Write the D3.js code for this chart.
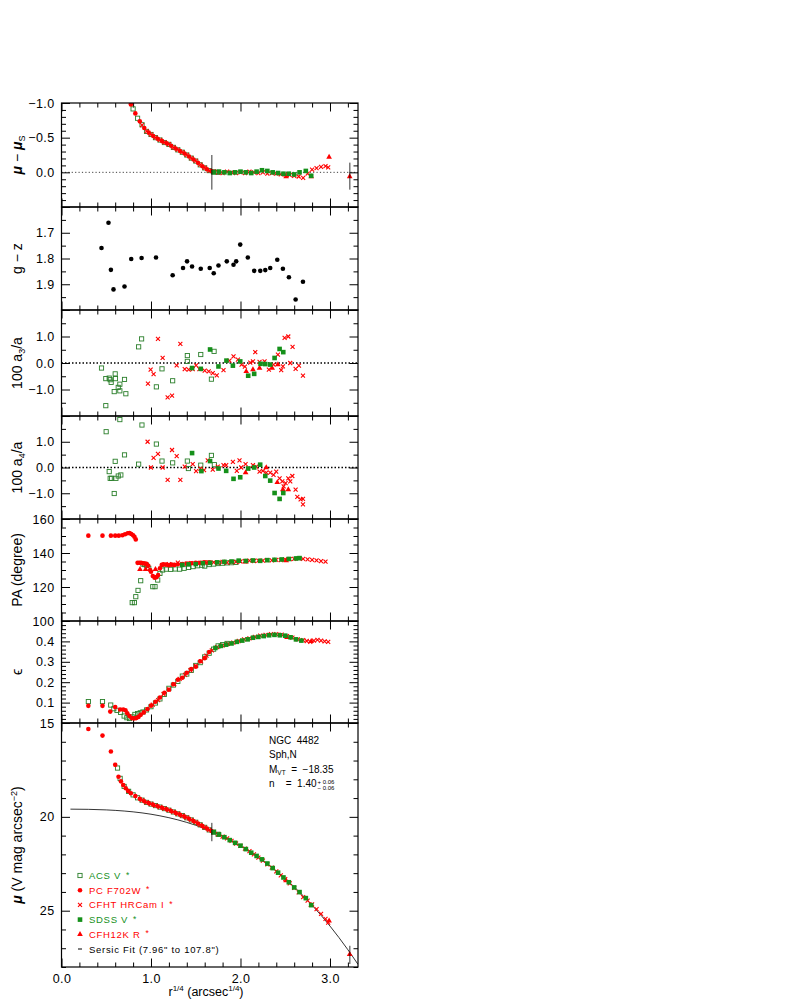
<!DOCTYPE html>
<html>
<head>
<meta charset="utf-8">
<script src="https://cdn.jsdelivr.net/npm/d3@7"></script>
<style>
  body { margin: 0; background: #fff; }
  text { font-family: "Liberation Sans", Arial, sans-serif; }
</style>
</head>
<body>
<svg id="chart" width="795" height="1004"></svg>
<script>
// ---- tick labels ----
var xTicks   = [0.0, 1.0, 2.0, 3.0];
var resTicks = [-1.0, -0.5, 0.0];
var gzTicks  = [1.7, 1.8, 1.9];
var a3Ticks  = [1.0, 0.0, -1.0];
var a4Ticks  = [1.0, 0.0, -1.0];
var paTicks  = [160, 140, 120, 100];
var epsTicks = [0.1, 0.2, 0.3, 0.4];
var muTicks  = [15, 20, 25];

// ---- mu - mu_s ----
var res_ACS = [[0.80,-0.915],[0.85,-0.78],[0.90,-0.686],[0.95,-0.59],[1.00,-0.546],[1.05,-0.5],[1.10,-0.466],[1.15,-0.43],[1.20,-0.403],[1.25,-0.36],[1.30,-0.324],[1.35,-0.29],[1.40,-0.25],[1.45,-0.205],[1.50,-0.163],[1.55,-0.108],[1.60,-0.064],[1.65,-0.025],[1.70,-0.008],[1.75,0.0]];
var res_PC = [[0.775,-0.98],[0.825,-0.85],[0.875,-0.735],[0.925,-0.64],[0.975,-0.572],[1.025,-0.524],[1.075,-0.484],[1.125,-0.45],[1.175,-0.419],[1.225,-0.383],[1.275,-0.343],[1.325,-0.308],[1.375,-0.271],[1.425,-0.229],[1.475,-0.185],[1.525,-0.137],[1.575,-0.087],[1.625,-0.045],[1.675,-0.015]];
var res_CFHT = [[0.90,-0.68],[0.95,-0.595],[1.00,-0.548],[1.05,-0.50],[1.10,-0.468],[1.15,-0.432],[1.20,-0.405],[1.25,-0.36],[1.30,-0.326],[1.35,-0.29],[1.40,-0.252],[1.45,-0.205],[1.50,-0.165],[1.55,-0.11],[1.60,-0.066],[1.65,-0.025],[1.70,-0.01],[1.75,0.0],[1.80,0.01],[1.85,-0.01],[1.90,0.0],[1.95,0.01],[2.00,0.0],[2.05,0.01],[2.10,-0.01],[2.15,0.0],[2.20,0.01],[2.25,0.0],[2.30,0.02],[2.35,0.01],[2.40,0.02],[2.45,0.03],[2.50,0.03],[2.55,0.04],[2.60,0.05],[2.65,0.06],[2.70,0.08],[2.75,0.02],[2.80,-0.04],[2.85,-0.06],[2.90,-0.08],[2.95,-0.09],[2.98,-0.07]];
var res_SDSS = [[1.70,0.0],[1.76,-0.01],[1.82,0.0],[1.88,0.01],[1.94,0.0],[2.00,-0.01],[2.06,0.0],[2.12,0.01],[2.18,-0.01],[2.24,-0.03],[2.30,-0.02],[2.36,0.0],[2.42,0.01],[2.48,0.02],[2.54,0.02],[2.60,0.03],[2.66,0.0],[2.73,-0.02],[2.79,0.05]];
var res_CFH12K = [[2.51,0.06],[2.79,0.06],[2.99,-0.22],[3.22,0.06]];
var fitMarksRes = [[1.68,-0.25,0.25],[3.222,-0.14,0.25]];

// ---- g - z ----
var gz = [[0.447,1.759],[0.525,1.661],[0.552,1.844],[0.581,1.920],[0.704,1.909],[0.779,1.802],[0.895,1.798],[1.056,1.796],[1.242,1.865],[1.358,1.837],[1.403,1.811],[1.459,1.831],[1.556,1.840],[1.656,1.837],[1.701,1.857],[1.754,1.827],[1.847,1.811],[1.922,1.824],[1.952,1.811],[1.997,1.746],[2.082,1.796],[2.153,1.848],[2.221,1.848],[2.277,1.845],[2.332,1.837],[2.411,1.805],[2.474,1.840],[2.541,1.873],[2.616,1.959],[2.698,1.890]];

// ---- 100 a3/a ----
var a3_ACS = [[0.447,-0.19],[0.495,-0.59],[0.495,-1.61],[0.533,-0.57],[0.544,-0.63],[0.555,-0.73],[0.589,-1.08],[0.600,-0.41],[0.603,-0.59],[0.634,-0.92],[0.652,-0.80],[0.652,-1.05],[0.704,-0.62],[0.719,-1.16],[0.862,0.61],[0.895,0.91],[1.060,-0.90],[1.123,-0.22],[1.242,-0.67],[1.406,0.28],[1.406,0.06],[1.556,0.32],[1.675,-0.61],[1.705,0.44]];
var a3_CFHT = [[0.966,-0.78],[0.996,-0.25],[1.029,-0.42],[1.078,0.91],[1.130,0.19],[1.186,-1.30],[1.235,-1.23],[1.287,-0.09],[1.328,0.72],[1.377,-0.23],[1.421,-0.25],[1.466,-0.23],[1.504,-0.09],[1.541,-0.23],[1.600,-0.29],[1.645,-0.32],[1.690,-0.38],[1.735,-0.47],[1.810,-0.27],[1.877,0.09],[1.922,0.25],[1.971,0.13],[2.012,-0.06],[2.049,-0.14],[2.109,0.01],[2.139,0.06],[2.165,0.41],[2.213,0.04],[2.269,0.06],[2.317,-0.25],[2.369,-0.06],[2.418,0.32],[2.455,-0.27],[2.474,-0.13],[2.493,0.95],[2.534,1.00],[2.556,0.0],[2.582,0.61],[2.616,-0.22],[2.653,-0.10],[2.698,-0.48]];
var a3_SDSS = [[1.459,-0.19],[1.556,-0.22],[1.660,0.51],[1.754,-0.13],[1.843,0.09],[1.915,-0.10],[1.997,0.06],[2.086,-0.48],[2.153,-0.41],[2.224,-0.03],[2.277,-0.04],[2.332,-0.06],[2.381,0.19],[2.437,0.53],[2.478,0.41]];
var a3_CFH12K = [[2.064,-0.32],[2.139,-0.25],[2.213,-0.19],[2.354,-0.19],[2.418,-0.06]];

// ---- 100 a4/a ----
var a4_ACS = [[0.499,1.39],[0.533,-0.16],[0.544,-0.42],[0.559,-0.42],[0.589,-1.01],[0.600,0.24],[0.608,-0.42],[0.634,-0.33],[0.652,1.86],[0.663,-0.29],[0.704,0.49],[0.862,0.13],[0.899,1.65],[1.060,0.91],[1.123,0.25],[1.242,0.18],[1.406,0.25],[1.418,-0.04],[1.556,0.09],[1.675,0.47],[1.708,0.11]];
var a4_CFHT = [[0.962,1.00],[0.999,0.0],[1.029,0.37],[1.078,0.53],[1.130,0.0],[1.186,-0.48],[1.235,0.68],[1.287,0.44],[1.328,-0.48],[1.377,0.03],[1.466,0.13],[1.504,-0.14],[1.552,-0.04],[1.593,-0.10],[1.634,0.28],[1.690,-0.08],[1.746,0.03],[1.810,0.09],[1.840,0.09],[1.915,0.22],[1.959,-0.13],[1.989,0.28],[2.008,0.0],[2.057,0.13],[2.083,-0.04],[2.139,0.09],[2.176,0.03],[2.213,-0.16],[2.250,-0.13],[2.288,-0.20],[2.332,-0.20],[2.369,-0.29],[2.399,-0.16],[2.437,-0.42],[2.467,-0.54],[2.482,-0.73],[2.504,-0.61],[2.534,-0.42],[2.556,-0.54],[2.579,-0.33],[2.616,-0.86],[2.635,-1.14],[2.672,-1.24],[2.698,-1.43],[2.698,-1.22]];
var a4_SDSS = [[1.459,0.56],[1.563,-0.14],[1.660,0.25],[1.754,-0.04],[1.840,-0.13],[1.922,-0.44],[1.997,-0.38],[2.086,-0.04],[2.153,0.0],[2.220,0.11],[2.277,-0.33],[2.332,-0.51],[2.381,-0.99],[2.437,-1.22],[2.478,-0.99]];
var a4_CFH12K = [[2.057,-0.20],[2.288,0.0],[2.411,-0.58],[2.474,-0.86],[2.534,-0.86]];

// ---- PA (degree) ----
var pa_PC = [[0.30,150.2],[0.458,150.2],[0.552,150.2],[0.60,150.2],[0.64,150.2],[0.68,150.4],[0.71,151.0],[0.74,151.6],[0.76,151.8],[0.78,151.2],[0.80,150.4],[0.815,149.5],[0.83,148.0],[0.85,134.2],[0.87,134.3],[0.89,134.2],[0.91,134.0],[0.93,133.8],[0.95,133.6],[0.97,132.5],[0.99,130.0],[1.00,129.0],[1.02,126.5],[1.04,125.5],[1.06,125.8],[1.08,127.0],[1.10,131.0],[1.12,133.0],[1.14,133.3],[1.17,133.2],[1.20,132.8],[1.23,133.2],[1.26,133.0],[1.30,133.4],[1.35,133.5],[1.40,133.8],[1.45,134.0],[1.50,134.2],[1.55,134.3],[1.60,134.5],[1.65,134.5]];
var pa_ACS = [[0.79,110.8],[0.815,110.8],[0.83,114.3],[0.855,118.0],[0.885,123.7],[0.91,133.5],[0.93,133.2],[0.95,132.8],[0.975,131.0],[1.02,120.2],[1.045,120.2],[1.075,124.1],[1.10,128.0],[1.13,130.0],[1.17,130.5],[1.22,130.4],[1.27,130.6],[1.32,130.5],[1.37,131.0],[1.42,131.5],[1.47,132.0],[1.52,132.5],[1.57,132.8],[1.60,132.3],[1.65,133.2],[1.70,133.5],[1.75,133.8],[1.80,134.0],[1.85,134.2],[1.90,134.3],[1.95,134.5]];
var pa_CFHT = [[1.15,133.0],[1.20,133.5],[1.25,133.0],[1.30,134.3],[1.35,133.5],[1.40,133.8],[1.45,134.0],[1.50,134.0],[1.55,134.2],[1.60,134.5],[1.65,134.3],[1.70,134.5],[1.75,134.2],[1.80,134.8],[1.85,134.4],[1.90,134.6],[1.95,134.8],[2.00,135.0],[2.05,135.2],[2.10,135.5],[2.15,135.3],[2.20,135.5],[2.25,135.5],[2.30,135.8],[2.35,135.6],[2.40,136.0],[2.45,135.8],[2.50,136.2],[2.55,136.4],[2.60,136.6],[2.65,136.8],[2.70,136.5],[2.75,136.3],[2.80,136.0],[2.85,135.6],[2.90,135.2],[2.95,134.9]];
var pa_SDSS = [[1.35,133.0],[1.42,133.3],[1.50,133.5],[1.58,134.0],[1.66,134.2],[1.74,134.5],[1.82,134.8],[1.90,135.0],[1.98,135.5],[2.06,135.3],[2.14,135.6],[2.22,135.4],[2.30,135.8],[2.38,136.0],[2.46,136.2],[2.54,136.5],[2.62,136.8],[2.66,137.0]];
var pa_CFH12K = [[0.877,130.4],[0.94,130.4],[1.05,130.4],[2.06,134.8],[2.51,135.5]];

// ---- ellipticity ----
var eps_PC = [[0.30,0.084],[0.458,0.084],[0.545,0.056],[0.60,0.078],[0.655,0.066],[0.69,0.066],[0.715,0.062],[0.735,0.048],[0.76,0.034],[0.785,0.024],[0.81,0.022],[0.835,0.024],[0.86,0.030],[0.885,0.040],[0.92,0.052],[0.96,0.068],[1.00,0.085],[1.05,0.104],[1.10,0.125],[1.15,0.148],[1.20,0.163],[1.25,0.190],[1.30,0.212],[1.35,0.222],[1.40,0.246],[1.45,0.265],[1.50,0.276],[1.55,0.303],[1.60,0.318],[1.65,0.348]];
var eps_ACS = [[0.30,0.105],[0.458,0.105],[0.55,0.088],[0.585,0.070],[0.62,0.062],[0.66,0.052],[0.70,0.034],[0.73,0.026],[0.76,0.022],[0.79,0.030],[0.82,0.042],[0.85,0.046],[0.88,0.050],[0.91,0.054],[0.95,0.064],[1.00,0.080],[1.05,0.098],[1.10,0.118],[1.15,0.140],[1.20,0.170],[1.25,0.186],[1.30,0.204],[1.35,0.230],[1.40,0.240],[1.45,0.258],[1.50,0.282],[1.55,0.296],[1.60,0.324],[1.65,0.342],[1.70,0.362],[1.75,0.378],[1.80,0.384],[1.85,0.390]];
var eps_CFHT = [[1.02,0.090],[1.08,0.112],[1.14,0.142],[1.20,0.165],[1.26,0.190],[1.32,0.216],[1.38,0.236],[1.44,0.258],[1.50,0.280],[1.56,0.302],[1.62,0.330],[1.68,0.356],[1.74,0.372],[1.80,0.380],[1.86,0.388],[1.92,0.394],[1.98,0.402],[2.04,0.410],[2.10,0.415],[2.16,0.422],[2.22,0.428],[2.28,0.432],[2.34,0.436],[2.40,0.436],[2.46,0.433],[2.52,0.426],[2.58,0.418],[2.64,0.410],[2.70,0.406],[2.74,0.402],[2.78,0.398],[2.82,0.404],[2.86,0.408],[2.90,0.404],[2.94,0.400],[2.98,0.398]];
var eps_SDSS = [[1.72,0.368],[1.78,0.378],[1.84,0.384],[1.90,0.390],[1.96,0.398],[2.02,0.404],[2.08,0.410],[2.14,0.418],[2.20,0.422],[2.26,0.426],[2.32,0.430],[2.38,0.432],[2.44,0.430],[2.50,0.428],[2.56,0.420],[2.62,0.410],[2.68,0.404]];
var eps_CFH12K = [[2.52,0.420],[2.79,0.400]];

// ---- surface brightness mu ----
var mu_ACS = [[0.626,17.40],[0.655,17.95],[0.70,18.38],[0.75,18.64],[0.80,18.83],[0.85,18.985],[0.90,19.11],[0.95,19.23],[1.00,19.32],[1.05,19.40],[1.10,19.48],[1.15,19.56],[1.20,19.645],[1.25,19.74],[1.30,19.84],[1.35,19.935],[1.40,20.05],[1.45,20.165],[1.50,20.29],[1.55,20.425],[1.60,20.56],[1.65,20.695],[1.70,20.81],[1.75,20.93]];
var mu_PC = [[0.30,15.32],[0.458,15.67],[0.552,16.52],[0.60,17.23],[0.637,17.86],[0.664,18.11],[0.69,18.30],[0.718,18.48],[0.745,18.62],[0.775,18.741],[0.825,18.896],[0.875,19.04],[0.925,19.166],[0.975,19.269],[1.025,19.356],[1.075,19.438],[1.125,19.519],[1.175,19.60],[1.225,19.69],[1.275,19.788],[1.325,19.885],[1.375,19.99],[1.425,20.104],[1.475,20.225],[1.525,20.355],[1.575,20.492],[1.625,20.626],[1.675,20.754]];
var mu_CFHT = [[0.90,19.104],[0.95,19.228],[1.00,19.312],[1.05,19.40],[1.10,19.477],[1.15,19.561],[1.20,19.64],[1.25,19.741],[1.30,19.835],[1.35,19.936],[1.40,20.044],[1.45,20.166],[1.50,20.285],[1.55,20.424],[1.60,20.558],[1.65,20.694],[1.70,20.81],[1.75,20.926],[1.80,21.048],[1.85,21.146],[1.90,21.28],[1.95,21.42],[2.00,21.546],[2.05,21.699],[2.10,21.829],[2.15,21.995],[2.20,22.169],[2.25,22.329],[2.30,22.526],[2.35,22.701],[2.40,22.904],[2.45,23.114],[2.50,23.322],[2.55,23.548],[2.60,23.78],[2.65,24.021],[2.70,24.282],[2.75,24.469],[2.80,24.667],[2.85,24.911],[2.90,25.164],[2.95,25.437],[2.98,25.63]];
var mu_SDSS = [[1.70,20.82],[1.76,20.938],[1.82,21.085],[1.88,21.24],[1.94,21.384],[2.00,21.536],[2.06,21.719],[2.12,21.911],[2.18,22.083],[2.24,22.265],[2.30,22.486],[2.36,22.73],[2.42,22.974],[2.48,23.229],[2.54,23.485],[2.60,23.76],[2.66,24.009],[2.73,24.33],[2.79,24.705]];
var mu_CFH12K = [[2.51,23.395],[2.79,24.715],[2.99,25.54],[3.22,27.32]];
var sersic = [[0.10,19.59],[0.30,19.60],[0.50,19.63],[0.70,19.69],[0.90,19.79],[1.00,19.86],[1.10,19.945],[1.20,20.045],[1.30,20.161],[1.40,20.296],[1.50,20.45],[1.60,20.624],[1.70,20.82],[1.80,21.038],[1.90,21.28],[2.00,21.546],[2.10,21.839],[2.20,22.159],[2.30,22.506],[2.40,22.884],[2.50,23.292],[2.60,23.73],[2.70,24.202],[2.80,24.707],[2.90,25.244],[3.00,25.819],[3.10,26.43],[3.20,27.08],[3.313,27.86]];
var fitMarksMu = [[1.68,20.32,21.30],[3.222,26.87,27.84]];

var legendLabels = ["ACS V", "PC F702W", "CFHT HRCam I", "SDSS V", "CFH12K R", "Sersic Fit (7.96\" to 107.8\")"];
var legendSyms   = ["osq", "circ", "cross", "fsq", "tri", "dash"];

// ---- styles ----
var RED = "#ff0000", GREEN = "#15901a", OGREEN = "#2b7f2b";
var FONT = "'Liberation Sans', Arial, sans-serif";

var svg = d3.select("#chart");
var x = d3.scaleLinear().domain([0, 3.313]).range([61.5, 358]);
var X0 = x.range()[0], X1 = x.range()[1];

var panels = [
  {id:"res", top:103, bot:207, vTop:-1.0, vBot:0.5, minor:0.1, major:0.5, labels:resTicks, fmt:".1f",
   title:"res", zero:1,
   sets:[[res_ACS,"osq",OGREEN],[res_PC,"circ",RED],[res_CFHT,"cross",RED],[res_CFH12K,"tri",RED],[res_SDSS,"fsq",GREEN]]},
  {id:"gz", top:207, bot:310, vTop:1.6, vBot:2.0, minor:0.05, major:0.1, labels:gzTicks, fmt:".1f",
   title:"gz", sets:[[gz,"circ","#000"]]},
  {id:"a3", top:310, bot:416, vTop:2, vBot:-2, minor:0.5, major:1, labels:a3Ticks, fmt:".1f",
   title:"a3", zero:1.5,
   sets:[[a3_ACS,"osq",OGREEN],[a3_CFHT,"cross",RED],[a3_CFH12K,"tri",RED],[a3_SDSS,"fsq",GREEN]]},
  {id:"a4", top:416, bot:519, vTop:2, vBot:-2, minor:0.5, major:1, labels:a4Ticks, fmt:".1f",
   title:"a4", zero:1.5,
   sets:[[a4_ACS,"osq",OGREEN],[a4_CFHT,"cross",RED],[a4_CFH12K,"tri",RED],[a4_SDSS,"fsq",GREEN]]},
  {id:"pa", top:519, bot:621, vTop:160, vBot:100, minor:5, major:20, labels:paTicks, fmt:"d",
   title:"pa",
   sets:[[pa_ACS,"osq",OGREEN],[pa_PC,"circ",RED],[pa_CFHT,"cross",RED],[pa_CFH12K,"tri",RED],[pa_SDSS,"fsq",GREEN]]},
  {id:"eps", top:621, bot:723, vTop:0.5, vBot:0.0, minor:0.02, major:0.1, labels:epsTicks, fmt:".1f",
   title:"eps",
   sets:[[eps_ACS,"osq",OGREEN],[eps_PC,"circ",RED],[eps_CFHT,"cross",RED],[eps_CFH12K,"tri",RED],[eps_SDSS,"fsq",GREEN]]},
  {id:"mu", top:723, bot:967, vTop:15, vBot:28, minor:1, major:5, labels:muTicks, fmt:"d",
   title:"mu",
   sets:[[mu_ACS,"osq",OGREEN],[mu_PC,"circ",RED],[mu_CFHT,"cross",RED],[mu_CFH12K,"tri",RED],[mu_SDSS,"fsq",GREEN]]}
];

function stepTicks(lo, hi, step) {
  var n = Math.round((hi - lo) / step);
  return d3.range(n + 1).map(function(i) { return +(lo + i * step).toFixed(6); });
}

function drawMarks(g, pts, sym, color, y) {
  var sel = g.selectAll(null).data(pts).enter();
  var tr = function(d) { return "translate(" + x(d[0]) + "," + y(d[1]) + ")"; };
  if (sym === "circ") {
    sel.append("circle").attr("cx", function(d){ return x(d[0]); }).attr("cy", function(d){ return y(d[1]); })
      .attr("r", 2.3).attr("fill", color);
  } else if (sym === "osq") {
    sel.append("rect").attr("transform", tr).attr("x", -2.1).attr("y", -2.1).attr("width", 4.2).attr("height", 4.2)
      .attr("fill", "none").attr("stroke", color).attr("stroke-width", 0.9);
  } else if (sym === "fsq") {
    sel.append("rect").attr("transform", tr).attr("x", -2.3).attr("y", -2.3).attr("width", 4.6).attr("height", 4.6)
      .attr("fill", color);
  } else if (sym === "tri") {
    sel.append("path").attr("transform", tr).attr("d", d3.symbol(d3.symbolTriangle, 14)).attr("fill", color);
  } else if (sym === "cross") {
    sel.append("path").attr("transform", tr).attr("d", "M-2,-2L2,2M-2,2L2,-2")
      .attr("stroke", color).attr("stroke-width", 1.1).attr("fill", "none");
  }
}

function tickSide(g, axis, vals, len, tx) {
  g.append("g").attr("transform", tx)
    .call(axis.tickValues(vals).tickSize(-len).tickFormat(""))
    .call(function(s) { s.select(".domain").remove(); })
    .selectAll("line").attr("stroke", "#000").attr("stroke-width", 1);
}

panels.forEach(function(p, i) {
  var y = d3.scaleLinear().domain([p.vTop, p.vBot]).range([p.top, p.bot]);
  p.y = y;
  var g = svg.append("g");
  var lo = Math.min(p.vTop, p.vBot), hi = Math.max(p.vTop, p.vBot);
  var all = stepTicks(lo, hi, p.minor);
  var isMaj = function(v) { var r = v / p.major; return Math.abs(r - Math.round(r)) < 1e-6; };
  var minY = all.filter(function(v){ return !isMaj(v); }), majY = all.filter(isMaj);
  var allX = stepTicks(0, 3.2, 0.2);
  var minX = allX.filter(function(v){ return Math.abs(v - Math.round(v)) > 1e-6; });
  var majX = allX.filter(function(v){ return Math.abs(v - Math.round(v)) < 1e-6; });

  // ticks on four sides, pointing in
  tickSide(g, d3.axisLeft(y), minY, 4.5, "translate(" + X0 + ",0)");
  tickSide(g, d3.axisLeft(y), majY, 8.5, "translate(" + X0 + ",0)");
  tickSide(g, d3.axisRight(y), minY, 4.5, "translate(" + X1 + ",0)");
  tickSide(g, d3.axisRight(y), majY, 8.5, "translate(" + X1 + ",0)");
  tickSide(g, d3.axisTop(x), minX, 4.5, "translate(0," + p.top + ")");
  tickSide(g, d3.axisTop(x), majX, 8.5, "translate(0," + p.top + ")");
  tickSide(g, d3.axisBottom(x), minX, 4.5, "translate(0," + p.bot + ")");
  tickSide(g, d3.axisBottom(x), majX, 8.5, "translate(0," + p.bot + ")");

  // y tick labels
  g.append("g").attr("transform", "translate(" + X0 + ",0)")
    .call(d3.axisLeft(y).tickValues(p.labels).tickSize(0).tickPadding(7).tickFormat(d3.format(p.fmt)))
    .call(function(s) { s.select(".domain").remove(); })
    .attr("font-size", 12.5).attr("font-family", FONT)
    .selectAll("text").attr("fill", "#000").attr("letter-spacing", 0.4);

  // zero reference line
  if (p.zero) {
    g.append("line").attr("x1", X0).attr("x2", X1).attr("y1", y(0)).attr("y2", y(0))
      .attr("stroke", "#000").attr("stroke-width", p.zero).attr("stroke-dasharray", p.zero > 1 ? "1.5,2" : "1.2,2.2")
      .attr("opacity", p.zero > 1 ? 1 : 0.75);
  }

  // clip and data
  var cid = "clip" + i;
  svg.append("clipPath").attr("id", cid).append("rect")
    .attr("x", X0).attr("y", p.top).attr("width", X1 - X0).attr("height", p.bot - p.top);
  var dg = svg.append("g").attr("clip-path", "url(#" + cid + ")");

  if (p.id === "mu") {
    dg.append("path").datum(sersic)
      .attr("d", d3.line().x(function(d){ return x(d[0]); }).y(function(d){ return y(d[1]); }).curve(d3.curveMonotoneX))
      .attr("fill", "none").attr("stroke", "#000").attr("stroke-width", 0.8);
  }
  p.sets.forEach(function(s) { drawMarks(dg, s[0], s[1], s[2], y); });

  var marks = p.id === "res" ? fitMarksRes : (p.id === "mu" ? fitMarksMu : null);
  if (marks) {
    dg.selectAll(null).data(marks).enter().append("line")
      .attr("x1", function(d){ return x(d[0]); }).attr("x2", function(d){ return x(d[0]); })
      .attr("y1", function(d){ return y(d[1]); }).attr("y2", function(d){ return y(d[2]); })
      .attr("stroke", "#000").attr("stroke-width", 0.8);
  }

  // frame
  svg.append("rect").attr("x", X0).attr("y", p.top).attr("width", X1 - X0).attr("height", p.bot - p.top)
    .attr("fill", "none").attr("stroke", "#000").attr("stroke-width", 1.2);

  // y titles
  var t = svg.append("text").attr("transform", "translate(22," + ((p.top + p.bot) / 2) + ") rotate(-90)")
    .attr("text-anchor", "middle").attr("font-size", 14).attr("fill", "#000");
  if (p.title === "res") {
    t.append("tspan").attr("font-style", "italic").attr("font-weight", "bold").text("μ");
    t.append("tspan").text(" − ");
    t.append("tspan").attr("font-style", "italic").attr("font-weight", "bold").text("μ");
    t.append("tspan").attr("font-size", 9).attr("dy", 3).text("S");
  } else if (p.title === "gz") {
    t.text("g − z");
  } else if (p.title === "a3" || p.title === "a4") {
    t.append("tspan").text("100 a");
    t.append("tspan").attr("font-size", 9).attr("dy", 3).text(p.title === "a3" ? "3" : "4");
    t.append("tspan").attr("dy", -3).text("/a");
  } else if (p.title === "pa") {
    t.text("PA (degree)");
  } else if (p.title === "eps") {
    t.text("ϵ");
  } else if (p.title === "mu") {
    t.append("tspan").attr("font-style", "italic").attr("font-weight", "bold").text("μ");
    t.append("tspan").text(" (V mag arcsec");
    t.append("tspan").attr("font-size", 9).attr("dy", -5).text("−2");
    t.append("tspan").attr("dy", 5).text(")");
  }
});

// x tick labels and title
var mu = panels[6];
svg.append("g").attr("transform", "translate(0," + mu.bot + ")")
  .call(d3.axisBottom(x).tickValues(xTicks).tickSize(0).tickPadding(7).tickFormat(d3.format(".1f")))
  .call(function(s) { s.select(".domain").remove(); })
  .attr("font-size", 12.5).attr("font-family", FONT)
  .selectAll("text").attr("fill", "#000").attr("letter-spacing", 0.4);

var xt = svg.append("text").attr("x", 206).attr("y", 996).attr("text-anchor", "middle")
  .attr("font-size", 12.5).attr("fill", "#000");
xt.append("tspan").text("r");
xt.append("tspan").attr("font-size", 8).attr("dy", -5).text("1/4");
xt.append("tspan").attr("dy", 5).text("  (arcsec");
xt.append("tspan").attr("font-size", 8).attr("dy", -5).text("1/4");
xt.append("tspan").attr("dy", 5).text(")");

// legend
var lg = svg.append("g");
legendLabels.forEach(function(lab, i) {
  var yy = 875.5 + i * 14.7;
  var sym = legendSyms[i];
  var col = (sym === "osq" || sym === "fsq") ? GREEN : (sym === "dash" ? "#000" : RED);
  if (sym === "dash") {
    lg.append("line").attr("x1", 78).attr("x2", 82).attr("y1", yy).attr("y2", yy).attr("stroke", "#000").attr("stroke-width", 1);
  } else {
    var ly = d3.scaleLinear().domain([0, 1]).range([yy, yy + 1]);
    drawMarks(lg, [[x.invert(80), 0]], sym, sym === "osq" ? OGREEN : col, ly);
  }
  var tx = lg.append("text").attr("x", 89).attr("y", yy + 3.5).attr("font-size", 9.5)
    .attr("letter-spacing", 0.7).attr("fill", col).text(lab);
  if (sym !== "dash") tx.append("tspan").attr("dx", 5).attr("dy", -1.5).attr("font-size", 8.5).text("*");
});

// annotation
var ax = 269;
var an = svg.append("g").attr("font-size", 10).attr("fill", "#000");
an.append("text").attr("x", ax).attr("y", 744).style("white-space", "pre").text("NGC  4482");
an.append("text").attr("x", ax).attr("y", 758).text("Sph,N");
var mt = an.append("text").attr("x", ax).attr("y", 772.5).style("white-space", "pre");
mt.append("tspan").text("M");
mt.append("tspan").attr("font-size", 6.5).attr("dy", 2).text("VT");
mt.append("tspan").attr("dy", -2).text("  =  −18.35");
var nt = an.append("text").attr("x", ax).attr("y", 787).style("white-space", "pre").text("n    =  1.40");
var nw = nt.node().getComputedTextLength();
an.append("text").attr("x", ax + nw + 1).attr("y", 783.5).attr("font-size", 6).style("white-space", "pre").text("+ 0.06");
an.append("text").attr("x", ax + nw + 1).attr("y", 789.5).attr("font-size", 6).style("white-space", "pre").text("− 0.06");
</script>
</body>
</html>
